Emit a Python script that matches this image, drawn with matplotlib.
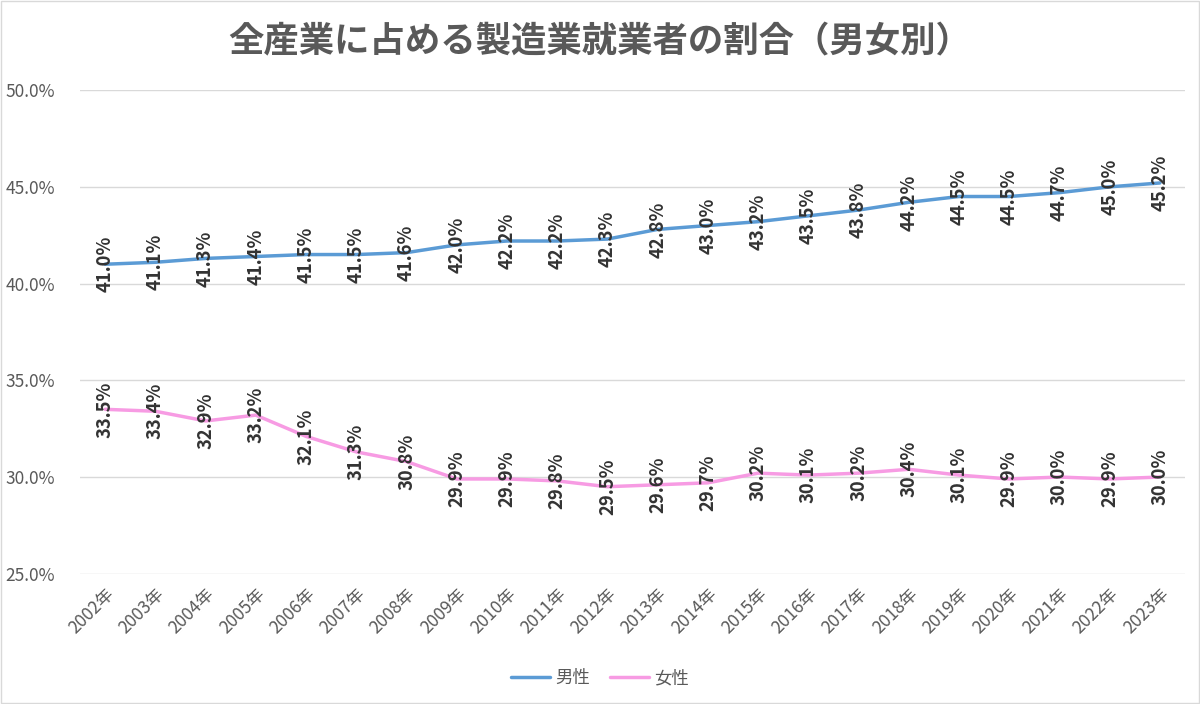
import matplotlib.pyplot as plt
from matplotlib.ticker import FuncFormatter

plt.rcParams['font.family'] = ['Noto Sans CJK JP', 'DejaVu Sans']

# Data
years = [f"{y}年" for y in range(2002, 2024)]
male = [41.0, 41.1, 41.3, 41.4, 41.5, 41.5, 41.6, 42.0, 42.2, 42.2, 42.3,
        42.8, 43.0, 43.2, 43.5, 43.8, 44.2, 44.5, 44.5, 44.7, 45.0, 45.2]
female = [33.5, 33.4, 32.9, 33.2, 32.1, 31.3, 30.8, 29.9, 29.9, 29.8, 29.5,
          29.6, 29.7, 30.2, 30.1, 30.2, 30.4, 30.1, 29.9, 30.0, 29.9, 30.0]

male_color = '#5B9BD5'
female_color = '#F79BE3'
text_color = '#595959'

fig = plt.figure(figsize=(12, 7.04), dpi=100)
ax = fig.add_axes([0.0667, 0.185, 0.9208, 0.687])

x = range(len(years))
ax.plot(x, male, color=male_color, lw=2.5, label='男性', solid_capstyle='round')
ax.plot(x, female, color=female_color, lw=2.5, label='女性', solid_capstyle='round')

# data labels, rotated and centred on the points
for vals in (male, female):
    for i, v in zip(x, vals):
        ax.text(i, v, f"{v:.1f}%", rotation=90, ha='center', va='center',
                fontsize=13.3, fontweight='bold', color='#333333')

ax.set_xlim(-0.5, len(years) - 0.5)
ax.set_ylim(25, 50)
ax.set_yticks([25, 30, 35, 40, 45, 50])
ax.yaxis.set_major_formatter(FuncFormatter(lambda v, p: f"{v:.1f}%"))
ax.set_xticks(list(x))
ax.set_xticklabels(years, rotation=45, ha='right', rotation_mode='anchor')
ax.tick_params(axis='both', length=0, colors=text_color, labelsize=12.5)
ax.tick_params(axis='y', pad=18)
ax.tick_params(axis='x', pad=8)
ax.grid(axis='y', color='#D9D9D9', lw=1)
for s in ax.spines.values():
    s.set_visible(False)
ax.set_axisbelow(True)

fig.text(0.5, 0.94, '全産業に占める製造業就業者の割合（男女別）', ha='center', va='center',
         fontsize=25.5, fontweight='bold', color=text_color)

fig.legend(loc='center', bbox_to_anchor=(0.5, 0.037), ncol=2, frameon=False,
           fontsize=12.5, labelcolor=text_color, handlelength=2.2, columnspacing=1.2,
           handletextpad=0.3)

fig.patches.append(plt.Rectangle((0.001, 0.001), 0.998, 0.998, transform=fig.transFigure,
                                 fill=False, edgecolor='#D9D9D9', lw=1))

fig.savefig('out.png', dpi=100)
